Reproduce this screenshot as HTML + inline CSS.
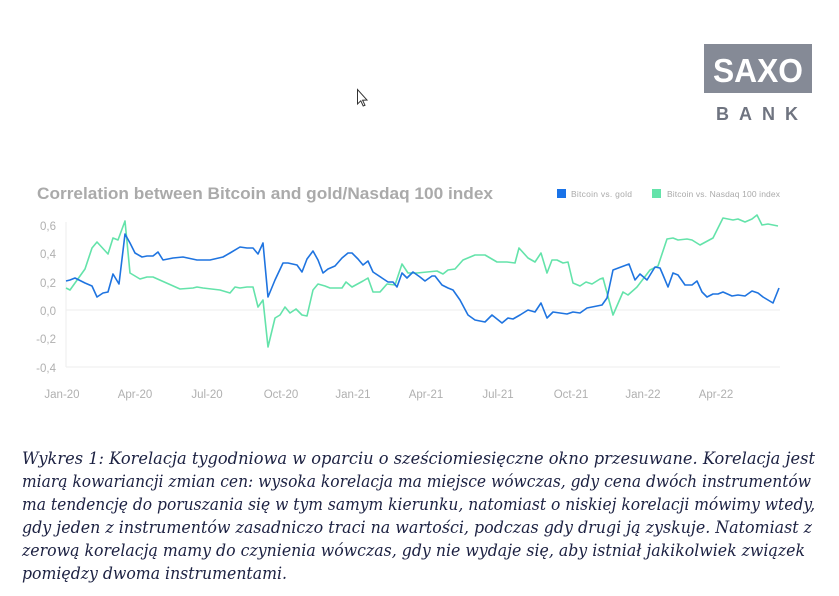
<!DOCTYPE html>
<html><head><meta charset="utf-8"><style>
html,body{margin:0;padding:0;background:#fff;width:839px;height:596px;overflow:hidden}
svg{display:block}
</style></head><body>
<svg width="839" height="596" viewBox="0 0 839 596" xmlns="http://www.w3.org/2000/svg">
<rect width="839" height="596" fill="#fff"/>
<!-- logo -->
<rect x="704" y="44" width="108" height="49" fill="#858a96"/>
<text x="758" y="82" text-anchor="middle" font-family="Liberation Sans, sans-serif" font-weight="bold" font-size="33" fill="#fff" textLength="90" lengthAdjust="spacingAndGlyphs">SAXO</text>
<text x="716" y="120" font-family="Liberation Sans, sans-serif" font-weight="bold" font-size="18" fill="#6f7480" textLength="82" lengthAdjust="spacing">BANK</text>
<!-- cursor -->
<path d="M357.5 89.5 L357.5 104 L360.8 100.8 L363.2 106 L365 105.2 L362.6 100.2 L367 100 Z" fill="#fff" stroke="#333" stroke-width="1"/>
<!-- title -->
<text x="37" y="199" font-family="Liberation Sans, sans-serif" font-weight="bold" font-size="17" fill="#aaaaaa" textLength="456" lengthAdjust="spacingAndGlyphs">Correlation between Bitcoin and gold/Nasdaq 100 index</text>
<rect x="557" y="189" width="9" height="9" fill="#1a73e8"/>
<text x="571" y="197" font-family="Liberation Sans, sans-serif" font-size="8.5" fill="#aaa" textLength="61">Bitcoin vs. gold</text>
<rect x="652" y="189" width="9" height="9" fill="#64e3aa"/>
<text x="667" y="197" font-family="Liberation Sans, sans-serif" font-size="8.5" fill="#aaa" textLength="113">Bitcoin vs. Nasdaq 100 index</text>
<!-- axes -->
<line x1="66" y1="222" x2="66" y2="367" stroke="#eeeeee"/>
<line x1="66" y1="310" x2="780" y2="310" stroke="#eeeeee"/>
<line x1="66" y1="367" x2="780" y2="367" stroke="#eeeeee"/>
<g font-family="Liberation Sans, sans-serif" font-size="11.5" fill="#b0b0b0" text-anchor="end">
<text x="56" y="230">0,6</text><text x="56" y="258">0,4</text><text x="56" y="287">0,2</text>
<text x="56" y="315">0,0</text><text x="56" y="343">-0,2</text><text x="56" y="372">-0,4</text>
</g>
<g font-family="Liberation Sans, sans-serif" font-size="11.5" fill="#b0b0b0" text-anchor="middle">
<text x="62" y="398">Jan-20</text><text x="135" y="398">Apr-20</text><text x="207" y="398">Jul-20</text>
<text x="281" y="398">Oct-20</text><text x="353" y="398">Jan-21</text><text x="426" y="398">Apr-21</text>
<text x="498" y="398">Jul-21</text><text x="571" y="398">Oct-21</text><text x="643" y="398">Jan-22</text>
<text x="716" y="398">Apr-22</text>
</g>
<polyline fill="none" stroke="#64e3aa" stroke-width="1.6" stroke-linejoin="round" points="66,288 70,290 85,269 92,248 97,242 108,254 113,238 118,240 125,221 130,273 140,279 147,277 153,277 180,289 193,288 197,287 203,288 220,290 230,293 235,287 240,288 247,287 253,287 258,307 263,300 268,347 275,318 280,315 285,307 290,313 296,309 302,315 307,316 313,290 318,284 325,286 330,288 337,288 342,288 346,282 352,287 363,281 368,278 373,292 380,292 387,284 395,285 402,264 408,273 417,273 437,271 443,274 448,270 455,269 463,260 475,255 485,255 497,262 507,262 515,263 519,248 528,258 535,262 541,253 547,273 552,260 557,260 563,263 568,262 573,283 580,286 586,282 592,284 600,279 603,278 613,315 623,292 628,295 637,287 650,270 658,266 667,239 673,238 678,240 687,239 692,240 700,245 713,238 723,218 733,220 738,219 745,222 752,219 757,215 762,225 768,224 778,226"/>
<polyline fill="none" stroke="#1f74e0" stroke-width="1.6" stroke-linejoin="round" points="66,281 70,280 75,278 85,283 92,286 97,297 103,293 108,292 113,274 119,284 125,234 130,243 135,253 142,257 147,256 153,256 158,252 163,260 173,258 183,257 197,260 210,260 223,257 230,253 240,247 247,248 253,248 258,254 263,243 268,297 275,280 283,263 288,263 297,265 302,272 307,259 313,251 318,260 323,273 328,269 335,266 342,258 348,253 352,253 358,259 363,265 368,261 373,272 382,278 388,282 393,282 397,287 402,273 407,278 413,272 420,277 425,281 432,276 435,276 442,285 448,288 453,290 460,300 468,315 475,320 485,322 492,315 502,323 508,318 513,319 520,315 528,310 535,312 541,303 547,318 553,312 560,313 567,314 573,312 580,313 587,308 597,306 602,305 607,298 613,270 629,264 635,280 640,274 647,280 655,267 660,268 663,275 668,287 673,273 678,275 685,285 692,285 697,281 702,292 707,297 713,294 718,294 723,292 732,296 738,295 745,296 752,291 758,293 763,297 773,303 779,288"/>
<!-- caption -->
<g font-family="DejaVu Serif, Liberation Serif, serif" font-style="italic" font-size="17" fill="#1c2142">
<text x="22" y="464" textLength="793" lengthAdjust="spacingAndGlyphs">Wykres 1: Korelacja tygodniowa w oparciu o sześciomiesięczne okno przesuwane. Korelacja jest</text>
<text x="22" y="487" textLength="789" lengthAdjust="spacingAndGlyphs">miarą kowariancji zmian cen: wysoka korelacja ma miejsce wówczas, gdy cena dwóch instrumentów</text>
<text x="22" y="510" textLength="793" lengthAdjust="spacingAndGlyphs">ma tendencję do poruszania się w tym samym kierunku, natomiast o niskiej korelacji mówimy wtedy,</text>
<text x="22" y="533" textLength="790" lengthAdjust="spacingAndGlyphs">gdy jeden z instrumentów zasadniczo traci na wartości, podczas gdy drugi ją zyskuje. Natomiast z</text>
<text x="22" y="556" textLength="783" lengthAdjust="spacingAndGlyphs">zerową korelacją mamy do czynienia wówczas, gdy nie wydaje się, aby istniał jakikolwiek związek</text>
<text x="22" y="579" textLength="265" lengthAdjust="spacingAndGlyphs">pomiędzy dwoma instrumentami.</text>
</g>
</svg>
</body></html>
